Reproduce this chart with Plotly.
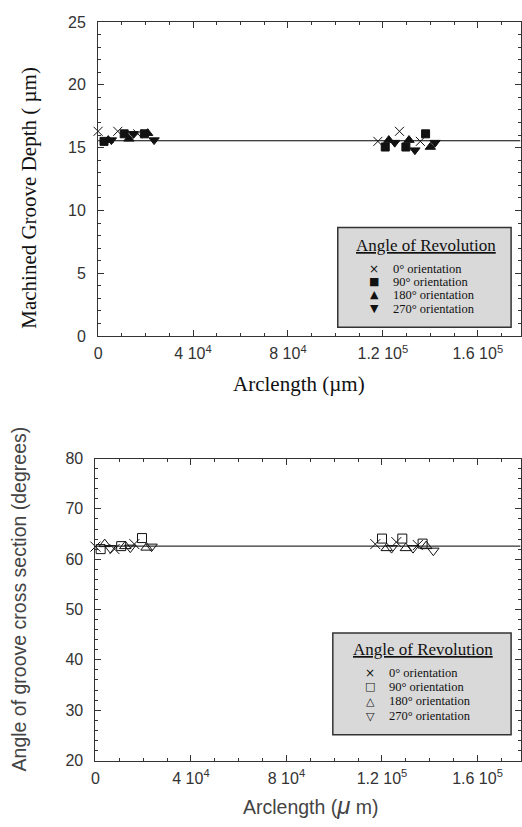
import plotly.graph_objects as go

# ---------------- data ----------------
# Top panel: machined groove depth (um) vs arclength (um)
DEPTH_X_0 = [0, 8300, 16700, 117900, 127000, 135800]
DEPTH_Y_0 = [16.3, 16.3, 16.1, 15.5, 16.3, 15.5]
DEPTH_X_90 = [2500, 11000, 19500, 121000, 129700, 138000]
DEPTH_Y_90 = [15.5, 16.1, 16.1, 15.05, 15.05, 16.1]
DEPTH_X_180 = [4300, 13000, 20900, 122500, 131000, 140000]
DEPTH_Y_180 = [15.6, 15.7, 16.15, 15.6, 15.6, 15.05]
DEPTH_X_270 = [5600, 14900, 23600, 125000, 133500, 142000]
DEPTH_Y_270 = [15.6, 16.1, 15.6, 15.4, 14.8, 15.4]
DEPTH_FIT_X = [0, 178000]
DEPTH_FIT_Y = [15.55, 15.55]

# Bottom panel: groove cross-section angle (degrees) vs arclength (um)
ANGLE_X_0 = [0, 8000, 16300, 117200, 126000, 135000]
ANGLE_Y_0 = [62.5, 62.0, 63.0, 63.0, 63.4, 62.8]
ANGLE_X_90 = [2200, 10800, 19500, 120000, 128500, 137000]
ANGLE_Y_90 = [62.0, 62.6, 64.2, 64.1, 64.1, 63.1]
ANGLE_X_180 = [3900, 12500, 21400, 122000, 130000, 138500]
ANGLE_Y_180 = [63.0, 62.6, 62.3, 62.2, 62.2, 62.6]
ANGLE_X_270 = [6200, 14600, 23500, 124000, 133000, 141500]
ANGLE_Y_270 = [62.2, 62.3, 62.5, 62.2, 62.2, 61.7]
ANGLE_FIT_X = [0, 178000]
ANGLE_FIT_Y = [62.6, 62.6]

X_TICKVALS = [0, 40000, 80000, 120000, 160000]
X_TICKTEXT = ["0", "4 10<sup>4</sup>", "8 10<sup>4</sup>",
              "1.2 10<sup>5</sup>", "1.6 10<sup>5</sup>"]
LEGEND_LABELS = ["0° orientation", "90° orientation",
                 "180° orientation", "270° orientation"]
LEGEND_SYMS_TOP = ["×", "■", "▲", "▼"]
LEGEND_SYMS_BOT = ["×", "□", "△", "▽"]

W, H = 522, 827
SANS = "Liberation Sans, Arial, sans-serif"
SERIF = "Liberation Serif, Times New Roman, serif"

fig = go.Figure()

def add_series(xs, ys, symbol, xa, ya, size):
    fig.add_trace(go.Scatter(
        x=xs, y=ys, mode="markers", xaxis=xa, yaxis=ya, cliponaxis=False,
        showlegend=False,
        marker=dict(symbol=symbol, size=size, color="#111",
                    line=dict(color="#111", width=1))))

# top panel
fig.add_trace(go.Scatter(x=DEPTH_FIT_X, y=DEPTH_FIT_Y, mode="lines",
                         line=dict(color="black", width=1.2),
                         xaxis="x", yaxis="y", showlegend=False))
add_series(DEPTH_X_0, DEPTH_Y_0, "x-thin", "x", "y", 9)
add_series(DEPTH_X_90, DEPTH_Y_90, "square", "x", "y", 8)
add_series(DEPTH_X_180, DEPTH_Y_180, "triangle-up", "x", "y", 9)
add_series(DEPTH_X_270, DEPTH_Y_270, "triangle-down", "x", "y", 9)

# bottom panel
fig.add_trace(go.Scatter(x=ANGLE_FIT_X, y=ANGLE_FIT_Y, mode="lines",
                         line=dict(color="black", width=1),
                         xaxis="x2", yaxis="y2", showlegend=False))
add_series(ANGLE_X_0, ANGLE_Y_0, "x-thin", "x2", "y2", 10)
add_series(ANGLE_X_90, ANGLE_Y_90, "square-open", "x2", "y2", 9)
add_series(ANGLE_X_180, ANGLE_Y_180, "triangle-up-open", "x2", "y2", 10)
add_series(ANGLE_X_270, ANGLE_Y_270, "triangle-down-open", "x2", "y2", 10)

tickfont = dict(family=SANS, size=16, color="#333")

def xaxis(domain, anchor):
    return dict(domain=domain, anchor=anchor, range=[0, 178000],
                tickvals=X_TICKVALS, ticktext=X_TICKTEXT, tickfont=tickfont,
                ticks="inside", ticklen=6, tickcolor="#333", tickwidth=1,
                showline=True, linecolor="#333", linewidth=1, mirror="ticks",
                showgrid=False, zeroline=False, ticklabelstandoff=3,
                minor=dict(dtick=10000, ticks="inside", ticklen=3,
                           tickcolor="#333", showgrid=False))

def yaxis(domain, anchor, rng, dtick, mdt):
    return dict(domain=domain, anchor=anchor, range=rng, dtick=dtick,
                tick0=rng[0], tickfont=tickfont,
                ticks="inside", ticklen=6, tickcolor="#333", tickwidth=1,
                showline=True, linecolor="#333", linewidth=1, mirror="ticks",
                showgrid=False, zeroline=False, ticklabelstandoff=8,
                minor=dict(dtick=mdt, ticks="inside", ticklen=3,
                           tickcolor="#333", showgrid=False))

fig.update_layout(
    width=W, height=H, autosize=False,
    margin=dict(l=0, r=0, t=0, b=0),
    paper_bgcolor="white", plot_bgcolor="white",
    xaxis=xaxis([95 / W, 521.5 / W], "y"),
    yaxis=yaxis([1 - 335 / H, 1 - 14.3 / H], "x", [0, 25], 5, 1),
    xaxis2=xaxis([92.3 / W, 521.5 / W], "y2"),
    yaxis2=yaxis([1 - 768.3 / H, 1 - 460 / H], "x2", [20, 80], 10, 2),
)

ann = []
shapes = []
# axis titles
ann.append(dict(text="Machined Groove Depth ( µm)", x=25 / W, y=1 - 194 / H,
                xref="paper", yref="paper", textangle=-90, showarrow=False,
                font=dict(family=SERIF, size=21, color="#111"),
                xanchor="center", yanchor="middle"))
ann.append(dict(text="Arclength (µm)", x=298 / W, y=1 - 384 / H,
                xref="paper", yref="paper", showarrow=False,
                font=dict(family=SERIF, size=21, color="#111"),
                xanchor="center", yanchor="middle"))
ann.append(dict(text="Angle of groove cross section (degrees)", x=15 / W,
                y=1 - 603 / H, xref="paper", yref="paper", textangle=-90,
                showarrow=False, font=dict(family=SANS, size=19.5, color="#444"),
                xanchor="center", yanchor="middle"))
ann.append(dict(text="Arclength (<i><span style='font-size:24px'>μ</span></i> m)",
                x=310 / W, y=1 - 814 / H, xref="paper", yref="paper",
                showarrow=False, font=dict(family=SANS, size=19.5, color="#444"),
                xanchor="center", yanchor="middle"))

def legend_box(x0, x1, y0, y1, title_x, title_y, sym_x, txt_x, rows, syms):
    shapes.append(dict(type="rect", xref="paper", yref="paper",
                       x0=x0 / W, x1=x1 / W, y0=1 - y1 / H, y1=1 - y0 / H,
                       fillcolor="#d9d9d9", line=dict(color="#333", width=1.5),
                       layer="above"))
    ann.append(dict(text="<u>Angle of Revolution</u>", x=title_x / W,
                    y=1 - title_y / H, xref="paper", yref="paper",
                    showarrow=False, xanchor="center", yanchor="middle",
                    font=dict(family=SERIF, size=17, color="#111")))
    for s, lab, ry in zip(syms, LEGEND_LABELS, rows):
        ann.append(dict(text=s, x=sym_x / W, y=1 - ry / H, xref="paper",
                        yref="paper", showarrow=False, xanchor="center",
                        yanchor="middle",
                        font=dict(family="DejaVu Sans",
                                  size=12 if s == "×" else 11, color="#111")))
        ann.append(dict(text=lab, x=txt_x / W, y=1 - ry / H, xref="paper",
                        yref="paper", showarrow=False, xanchor="left",
                        yanchor="middle",
                        font=dict(family=SERIF, size=12.5, color="#111")))

legend_box(337, 512, 224, 326, 426, 242, 374, 391,
           [266, 279.5, 293, 307], LEGEND_SYMS_TOP)
legend_box(332, 512, 638, 742, 423, 655, 370, 387,
           [679, 693, 708, 723], LEGEND_SYMS_BOT)

fig.update_layout(annotations=ann, shapes=shapes)
fig.write_html("out.html")
